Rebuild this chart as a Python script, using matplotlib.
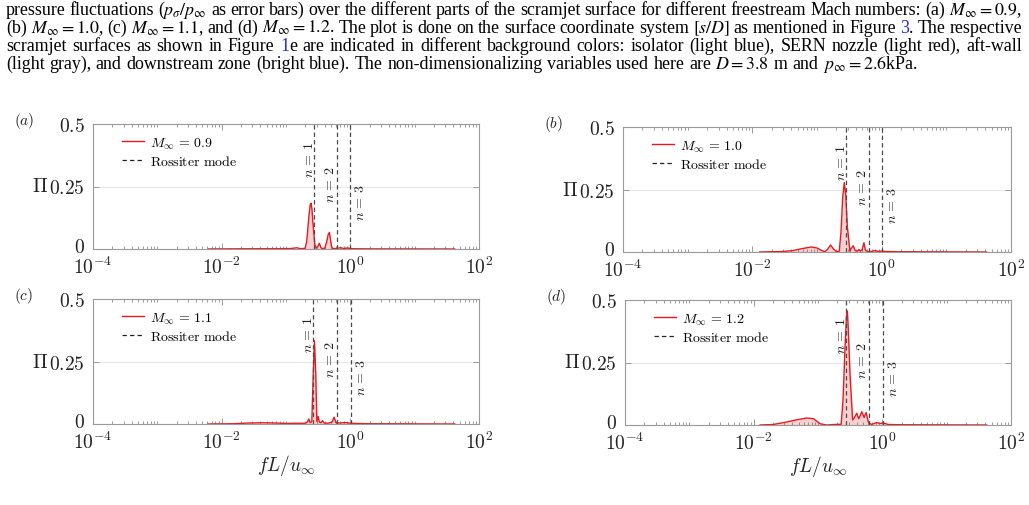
import matplotlib
matplotlib.use('Agg')
import matplotlib.pyplot as plt
import matplotlib.transforms as mtransforms
import numpy as np
from matplotlib.lines import Line2D
from matplotlib.ticker import FuncFormatter, LogLocator, NullFormatter

plt.rcParams['mathtext.fontset'] = 'cm'
plt.rcParams['font.family'] = 'DejaVu Serif'

W, H = 1029, 506

# spectra: frequency fL/u_inf and Pi
freq_a = [0.0062, 0.03, 0.08, 0.12, 0.147, 0.17, 0.198, 0.21, 0.225, 0.237, 0.245, 0.253,
          0.265, 0.28, 0.294, 0.315, 0.33, 0.345, 0.36, 0.40, 0.43, 0.455, 0.473, 0.49,
          0.51, 0.53, 0.60, 0.70, 0.80, 0.90, 1.1, 2.0, 42]
pi_a = [0, 0.001, 0.001, 0.002, 0.005, 0.001, 0.003, 0.03, 0.12, 0.175, 0.183, 0.16,
        0.09, 0.02, 0.003, 0.012, 0.023, 0.008, 0.002, 0.003, 0.03, 0.06, 0.066, 0.04,
        0.01, 0.002, 0.002, 0.005, 0.002, 0.004, 0.001, 0.0005, 0]

freq_b = [0.013, 0.03, 0.043, 0.06, 0.082, 0.10, 0.118, 0.132, 0.145, 0.162, 0.18, 0.2,
          0.221, 0.235, 0.25, 0.264, 0.278, 0.295, 0.323, 0.34, 0.363, 0.39, 0.42, 0.446,
          0.47, 0.50, 0.532, 0.56, 0.6, 0.7, 0.79, 0.9, 1.0, 1.15, 2.0, 42]
pi_b = [0, 0.002, 0.006, 0.014, 0.02, 0.016, 0.006, 0.001, 0.01, 0.028, 0.012, 0.001,
        0.003, 0.08, 0.22, 0.278, 0.23, 0.1, 0.003, 0.015, 0.025, 0.005, 0.003, 0.01,
        0.003, 0.01, 0.037, 0.008, 0.002, 0.002, 0.006, 0.002, 0.004, 0.002, 0.001, 0]

freq_c = [0.0062, 0.015, 0.027, 0.045, 0.07, 0.1, 0.15, 0.2, 0.215, 0.226, 0.238, 0.252,
          0.265, 0.277, 0.29, 0.302, 0.316, 0.33, 0.35, 0.37, 0.39, 0.45, 0.52, 0.56,
          0.6, 0.7, 0.85, 1.0, 1.3, 2.0, 42]
pi_c = [0, 0.001, 0.004, 0.005, 0.004, 0.002, 0.003, 0.003, 0.008, 0.02, 0.005, 0.01,
        0.2, 0.333, 0.2, 0.01, 0.03, 0.008, 0.005, 0.013, 0.004, 0.003, 0.008, 0.027,
        0.005, 0.004, 0.006, 0.003, 0.002, 0.001, 0]

freq_d = [0.0126, 0.02, 0.03, 0.045, 0.067, 0.085, 0.108, 0.137, 0.18, 0.229, 0.245,
          0.262, 0.276, 0.286, 0.296, 0.315, 0.335, 0.345, 0.37, 0.40, 0.43, 0.48, 0.52,
          0.56, 0.61, 0.68, 0.82, 0.92, 1.03, 1.24, 2.0, 42]
pi_d = [0, 0.002, 0.01, 0.02, 0.028, 0.025, 0.005, 0.0, 0.002, 0.003, 0.1,
        0.3, 0.43, 0.456, 0.38, 0.2, 0.08, 0.02, 0.03, 0.047, 0.025, 0.053, 0.03,
        0.05, 0.01, 0.002, 0.01, 0.006, 0.008, 0.002, 0.001, 0]

ross_a = [0.277, 0.63, 0.99]
ross_b = [0.28, 0.643, 1.03]
ross_c = [0.267, 0.624, 1.007]
ross_d = [0.274, 0.63, 1.02]

mach = ['0.9', '1.0', '1.1', '1.2']
letters = ['a', 'b', 'c', 'd']

fig = plt.figure(figsize=(W / 100, H / 100), dpi=100)

# --- caption above the panels (justified lines, blue figure refs)
cap_size = 12.9
cap = dict(fontsize=cap_size, family='Liberation Serif', math_fontfamily='stix', va='baseline')
blue = '#2a2ad8'
lines = [
    ("pressure fluctuations ($p_\\sigma/p_\\infty$ as error bars) over the different parts of the "
     "scramjet surface for different freestream Mach numbers: (a) $M_\\infty=0.9$,", True),
    ("(b) $M_\\infty=1.0$, (c) $M_\\infty=1.1$, and (d) $M_\\infty=1.2$. The plot is done on the "
     "surface coordinate system $[s/D]$ as mentioned in Figure |3|. The respective", True),
    ("scramjet surfaces as shown in Figure |1|e are indicated in different background colors:  "
     "isolator (light blue), SERN nozzle (light red), aft-wall", True),
    ("(light gray), and downstream zone (bright blue). The non-dimensionalizing variables used "
     "here are $D=3.8$ m and $p_\\infty=2.6$kPa.", False),
]
baselines = [15, 33, 51, 69]
r = fig.canvas.get_renderer()
for (txt, just), yb in zip(lines, baselines):
    words = []
    for w in txt.split():
        parts = w.split('|')
        segs = [(p, blue if k % 2 else 'black') for k, p in enumerate(parts) if p]
        objs = [fig.text(0, 1 - yb / H, s, color=c, **cap) for s, c in segs]
        widths = [o.get_window_extent(r).width for o in objs]
        words.append((objs, widths))
    total = sum(sum(ws) for _, ws in words)
    gap = (1016 - total) / (len(words) - 1) if just else cap_size * 0.25 * 100 / 72
    x = 6
    for objs, ws in words:
        for o, w in zip(objs, ws):
            o.set_x(x / W)
            x += w
        x += gap

# --- the four panels
rects = [(93, 125, 479, 250), (623, 128, 1011, 253), (93, 300, 479, 425), (625, 301, 1011, 426)]
data = [(freq_a, pi_a, ross_a), (freq_b, pi_b, ross_b), (freq_c, pi_c, ross_c), (freq_d, pi_d, ross_d)]
red = '#e8191e'
frame = '#9a9a9a'

for i, ((l, t, rr, b), (fq, pv, ross)) in enumerate(zip(rects, data)):
    ax = fig.add_axes([l / W, 1 - b / H, (rr - l) / W, (b - t) / H])
    ax.fill_between(fq, 0, pv, color=red, alpha=0.2, lw=0)
    ax.plot(fq, pv, color=red, lw=1.0)
    for k, f in enumerate(ross):
        ax.axvline(f, color='#4a4a4a', ls=(0, (3.5, 2.5)), lw=0.9)
    for k, (f, dx, yy) in enumerate(zip(ross, [-5, -7, 10], [0.36, 0.26, 0.19])):
        ax.annotate(r'$n\,=\,%d$' % (k + 1), xy=(f, yy), xytext=(dx * 0.72, 0),
                    textcoords='offset points', rotation=90, ha='center', va='center',
                    fontsize=10, color='#222222')

    ax.set_xscale('log')
    ax.set_xlim(1e-4, 1e2)
    ax.set_ylim(0, 0.5)
    ax.set_xticks([1e-4, 1e-2, 1e0, 1e2])
    ax.xaxis.set_major_formatter(FuncFormatter(lambda v, p: r'$10^{%d}$' % round(np.log10(v))))
    ax.xaxis.set_minor_locator(LogLocator(base=10, subs=np.arange(1, 10), numticks=50))
    ax.xaxis.set_minor_formatter(NullFormatter())
    ax.set_yticks([0, 0.25, 0.5])
    ax.set_yticklabels([r'$0$', r'$0.25$', r'$0.5$'])
    ax.tick_params(which='both', direction='in', top=True, right=True, color=frame,
                   labelcolor='#222222', labelsize=14, width=0.7)
    ax.tick_params(which='major', length=4)
    ax.tick_params(axis='x', which='major', pad=5)
    ax.tick_params(axis='y', which='major', pad=6)
    ax.tick_params(which='minor', length=2)
    for s in ax.spines.values():
        s.set_color(frame)
        s.set_linewidth(0.8)
    ax.grid(axis='y', color='#e6e6e6', lw=0.8)
    ax.set_axisbelow(True)
    # nudge the "0" label up a little so it clears the 10^-4 label below it
    zero = ax.yaxis.get_major_ticks()[0].label1
    zero.set_transform(zero.get_transform() +
                       mtransforms.ScaledTranslation(0, 3 / 72, fig.dpi_scale_trans))

    ax.set_ylabel(r'$\Pi$', rotation=0, fontsize=14, va='center', ha='right', labelpad=1,
                  color='#222222')
    if i >= 2:
        ax.set_xlabel(r'$fL/u_\infty$', fontsize=14, labelpad=0, color='#222222')

    handles = [Line2D([], [], color=red, lw=1.0),
               Line2D([], [], color='#222222', lw=0.9, ls=(0, (3.5, 2.5)))]
    ax.legend(handles, [r'$M_\infty\,=\,%s$' % mach[i], r'$\mathrm{Rossiter\ mode}$'],
              loc='upper left', bbox_to_anchor=(0.075, 0.91), frameon=False, fontsize=10,
              handlelength=1.6, handletextpad=0.4, labelspacing=0.25, borderpad=0,
              borderaxespad=0)

    fig.text((l - 79) / W, 1 - (t - 4) / H, r'$(%s)$' % letters[i], fontsize=11,
             ha='left', va='center', color='#222222')

fig.savefig('out.png', dpi=100)
